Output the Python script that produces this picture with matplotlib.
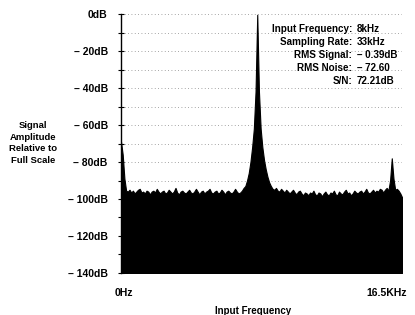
"""FFT spectrum of an 8 kHz input sampled at 33 kHz."""
import matplotlib
matplotlib.use("Agg")
import matplotlib.pyplot as plt
import matplotlib.transforms as mtransforms
import numpy as np

# spectrum, one value per 0.1 kHz bin (0 .. 16.5 kHz)
bin_khz = 0.1
spectrum_db = [
    -69, -76, -89, -95.5, -96, -95, -96.5, -95.5, -97, -96,
    -95, -94.5, -96.5, -96, -97, -95.5, -96, -97.5, -96, -95.5,
    -96.5, -94.5, -96, -97, -96, -95.5, -97, -96.5, -95, -96,
    -97, -96, -94, -96.5, -97.5, -96, -95.5, -96.5, -97, -96,
    -95, -96.5, -97, -96, -94.5, -96, -97.5, -96, -95.5, -97,
    -96, -95.5, -94.5, -96.5, -97, -96, -95.5, -97, -96.5, -95,
    -96, -97.5, -96, -95.5, -96.5, -97, -96, -94.5, -96, -97,
    -96.5, -95.5, -94, -93, -90, -86, -80, -72, -62, -42,
    -0.4,
    -42, -62, -72, -79, -84, -88, -91, -93, -94.5,
    -95, -94, -95.5, -96, -94.5, -95.5, -96.5, -95, -96, -97,
    -96, -95, -96.5, -97.5, -96, -95.5, -97, -98, -96.5, -97,
    -98, -96.5, -97, -95.5, -97.5, -98, -96.5, -97, -98.5, -97,
    -96, -97.5, -98, -96.5, -97, -95.5, -97.5, -98, -96, -97,
    -97.5, -96, -95, -97, -96.5, -98, -97, -95.5, -96.5, -97,
    -96, -95.5, -97, -96, -94.5, -96.5, -97, -96, -95, -96.5,
    -95.5, -96, -94.5, -95, -96.5, -95, -94, -95.5, -90, -78,
    -89, -95, -94.5, -95.5, -97, -99,
]
freq_khz = np.arange(len(spectrum_db)) * bin_khz

y_major = [0, -20, -40, -60, -80, -100, -120, -140]
y_labels = ["0dB"] + ["\u2013 %ddB" % -v for v in y_major[1:]]
y_minor = [-10, -30, -50, -70, -90, -110, -130]
grid_db = [0, -10, -20, -30, -40, -50, -60, -70, -80, -90]

info_labels = ["Input Frequency:", "Sampling Rate:", "RMS Signal:", "RMS Noise:", "S/N:"]
info_values = ["8kHz", "33kHz", "\u2013 0.39dB", "\u2013 72.60", "72.21dB"]

plt.rcParams["font.family"] = ["Liberation Sans", "DejaVu Sans"]
plt.rcParams["font.weight"] = "bold"

W, H = 415, 315
fig = plt.figure(figsize=(W / 100, H / 100), dpi=100)
ax = fig.add_axes([121 / W, 1 - 273 / H, (402 - 121) / W, (273 - 14) / H])

for g in grid_db:
    ax.axhline(g, color="#888", lw=0.6, ls=(0, (1, 3)), zorder=1)

ax.fill_between(freq_khz, -140, spectrum_db, color="black", edgecolor="black",
                lw=0.8, zorder=2)

ax.set_xlim(0, 16.5)
ax.set_ylim(-140, 0)
ax.set_yticks(y_major, y_labels)
ax.set_yticks(y_minor, minor=True)
ax.tick_params(axis="y", which="major", direction="inout", length=5, width=0.8,
               pad=7, labelsize=7.5)
ax.tick_params(axis="y", which="minor", direction="inout", length=4, width=0.8)
ax.set_xticks([0, 16.5], ["0Hz", "16.5KHz"])
ax.tick_params(axis="x", length=0, pad=11, labelsize=7.5)
lab = ax.get_xticklabels()
lab[1].set_ha("right")
lab[1].set_transform(lab[1].get_transform() +
                     mtransforms.ScaledTranslation(5 / 100, 0, fig.dpi_scale_trans))
lab[0].set_transform(lab[0].get_transform() +
                     mtransforms.ScaledTranslation(3 / 100, 0, fig.dpi_scale_trans))

for s in ("top", "right"):
    ax.spines[s].set_visible(False)
ax.spines["left"].set_linewidth(1)
ax.spines["bottom"].set_visible(False)

fig.text(253 / W, 1 - 311 / H, "Input Frequency", ha="center", va="center", fontsize=7)
fig.text(33 / W, 1 - 143 / H, "Signal\nAmplitude\nRelative to\nFull Scale",
         ha="center", va="center", fontsize=6.8, linespacing=1.35)

for i, (k, v) in enumerate(zip(info_labels, info_values)):
    y = 1 - (29.5 + i * 12.9) / H
    fig.text(352 / W, y, k, ha="right", va="center", fontsize=7.1)
    fig.text(357 / W, y, v, ha="left", va="center", fontsize=7.1)

fig.savefig("out.png", dpi=100)
